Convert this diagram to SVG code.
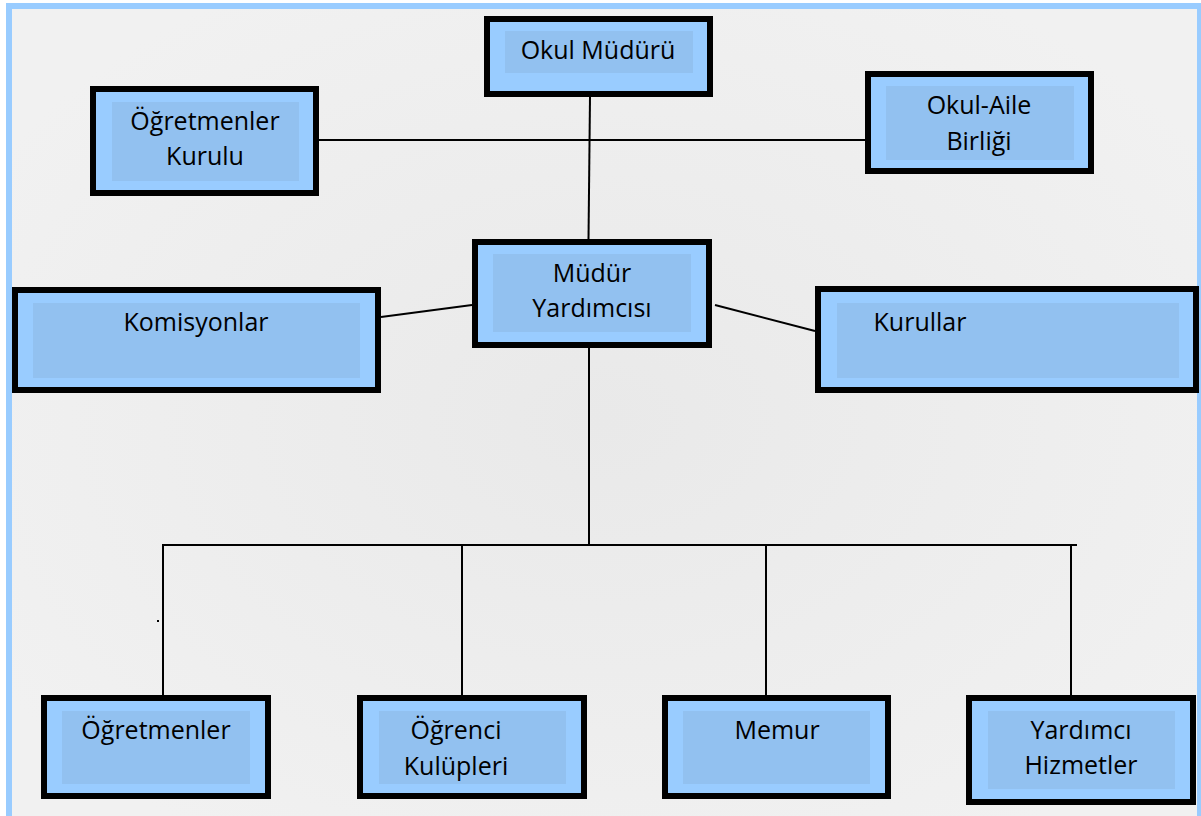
<svg xmlns="http://www.w3.org/2000/svg" width="1201" height="816" viewBox="0 0 1201 816">
<defs>
<radialGradient id="bg" cx="0.5" cy="0.5" r="0.6">
<stop offset="0" stop-color="#e9e9e9"/>
<stop offset="1" stop-color="#f1f1f1"/>
</radialGradient>
</defs>
<style>
.box{fill:#99ccff;stroke:#000;stroke-width:6}
.inner{fill:#92c1f0}
.t{font-family:"Open Sans","Liberation Sans",sans-serif;font-size:25px;fill:#000;text-anchor:middle}
.c{stroke:#000;stroke-width:2;fill:none}
</style>
<rect x="0" y="0" width="1201" height="816" fill="#ffffff"/>
<rect x="9" y="6" width="1191" height="830" fill="url(#bg)" stroke="#99ccff" stroke-width="6"/>
<g id="connectors">
<line class="c" x1="590" y1="97" x2="588.5" y2="239"/>
<line class="c" x1="319" y1="140" x2="873" y2="140"/>
<line class="c" x1="381" y1="317" x2="472" y2="305"/>
<line class="c" x1="715" y1="305" x2="815" y2="331"/>
<line class="c" x1="589" y1="348" x2="589" y2="545"/>
<line class="c" x1="162" y1="545" x2="1077" y2="545"/>
<line class="c" x1="163" y1="545" x2="163" y2="695"/>
<line class="c" x1="462" y1="545" x2="462" y2="695"/>
<line class="c" x1="766" y1="545" x2="766" y2="695"/>
<line class="c" x1="1071" y1="545" x2="1071" y2="695"/>
<rect x="157" y="620" width="2" height="2" fill="#000"/>
</g>
<g id="okul-muduru">
<rect class="box" x="487" y="19" width="223" height="75"/>
<rect class="inner" x="505" y="31" width="188" height="42"/>
<text class="t" x="598" y="59">Okul Müdürü</text>
</g>
<g id="ogretmenler-kurulu">
<rect class="box" x="93" y="89" width="223" height="104"/>
<rect class="inner" x="112" y="102" width="187" height="79"/>
<text class="t" x="205" y="130">Öğretmenler</text>
<text class="t" x="205" y="165">Kurulu</text>
</g>
<g id="okul-aile-birligi">
<rect class="box" x="868" y="74" width="223" height="97"/>
<rect class="inner" x="886" y="86" width="188" height="74"/>
<text class="t" x="979" y="114">Okul-Aile</text>
<text class="t" x="979" y="150">Birliği</text>
</g>
<g id="komisyonlar">
<rect class="box" x="15" y="290" width="363" height="100"/>
<rect class="inner" x="33" y="303" width="327" height="75"/>
<text class="t" x="196" y="331">Komisyonlar</text>
</g>
<g id="mudur-yardimcisi">
<rect class="box" x="475" y="242" width="234" height="103"/>
<rect class="inner" x="493" y="254" width="198" height="78"/>
<text class="t" x="592" y="282">Müdür</text>
<text class="t" x="592" y="317">Yardımcısı</text>
</g>
<g id="kurullar">
<rect class="box" x="818" y="289" width="378" height="101"/>
<rect class="inner" x="837" y="303" width="342" height="75"/>
<text class="t" x="920" y="331">Kurullar</text>
</g>
<g id="ogretmenler">
<rect class="box" x="44" y="698" width="224" height="98"/>
<rect class="inner" x="62" y="711" width="188" height="73"/>
<text class="t" x="156" y="739">Öğretmenler</text>
</g>
<g id="ogrenci-kulupleri">
<rect class="box" x="360" y="698" width="224" height="98"/>
<rect class="inner" x="379" y="711" width="187" height="73"/>
<text class="t" x="456" y="739">Öğrenci</text>
<text class="t" x="456" y="775">Kulüpleri</text>
</g>
<g id="memur">
<rect class="box" x="665" y="698" width="223" height="98"/>
<rect class="inner" x="683" y="711" width="187" height="73"/>
<text class="t" x="777" y="739">Memur</text>
</g>
<g id="yardimci-hizmetler">
<rect class="box" x="969" y="698" width="224" height="104"/>
<rect class="inner" x="988" y="711" width="187" height="78"/>
<text class="t" x="1081" y="739">Yardımcı</text>
<text class="t" x="1081" y="774">Hizmetler</text>
</g>
</svg>
